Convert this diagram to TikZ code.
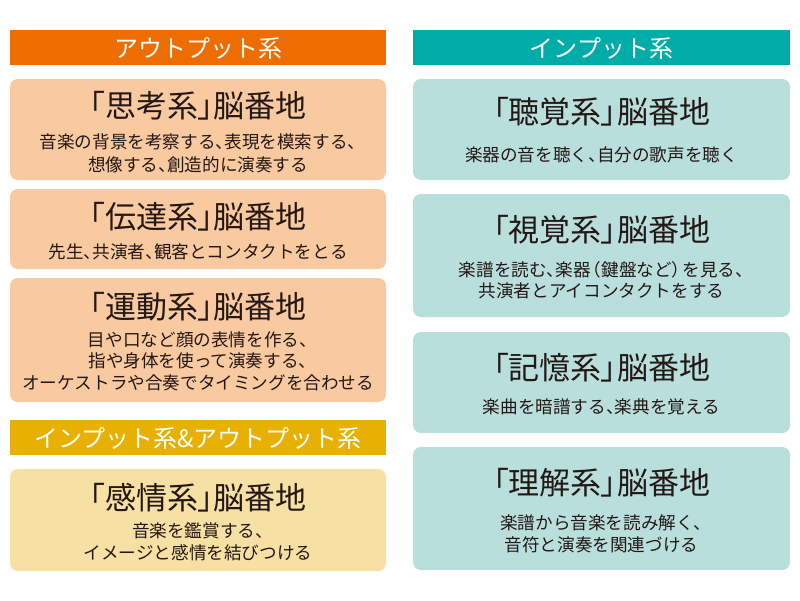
\documentclass[tikz,border=0pt]{standalone}
\usepackage{fontspec}
\setmainfont{Noto Sans CJK JP}
\newfontfamily\ttlfont{Noto Sans CJK JP}[RawFeature=+palt]
\newcommand\tou{\hbox to 0.5em{、\hss}}
\newcommand\kakkoL{\hbox to 0.6em{\hss（}}
\newcommand\kakkoR{\hbox to 0.6em{）\hss}}
\definecolor{hdrorange}{HTML}{ED6D00}
\definecolor{boxorange}{HTML}{F9C9A0}
\definecolor{hdryellow}{HTML}{E8B000}
\definecolor{boxyellow}{HTML}{F7E0A3}
\definecolor{hdrteal}{HTML}{00ACA8}
\definecolor{boxteal}{HTML}{B9DFDD}
\definecolor{ink}{HTML}{231815}
\begin{document}
\begin{tikzpicture}[x=1pt, y=-1pt, line join=round, line cap=round,
    hdr/.style={inner sep=0pt, minimum height=35pt},
    hdrtxt/.style={anchor=base, inner sep=0pt, text=white, font=\fontsize{24}{28}\selectfont},
    card/.style={inner sep=0pt, rounded corners=8pt},
    ttl/.style={anchor=base, inner sep=0pt, text=ink, font=\ttlfont\fontsize{31}{36}\selectfont},
    txt/.style={anchor=base, inner sep=0pt, align=center, text=ink, font=\fontsize{17.6}{22}\selectfont}]
    \useasboundingbox (0,0) rectangle (800,600);
    % アウトプット系
    \node[hdr, fill=hdrorange, minimum width=376pt] (outhdr) at (198,47.5) {};
    \node[hdrtxt] (outlbl) at (198,57) {アウトプット系};
    \node[card, fill=boxorange, minimum width=376pt, minimum height=101pt] (thinkbox) at (198,129.5) {};
    \node[ttl] (think) at (198,117) {「思考系」脳番地};
    \node[txt, font=\fontsize{17.6}{23}\selectfont] (thinktxt) at (198,171) {音楽の背景を考察する\tou 表現を模索する\tou\\想像する\tou 創造的に演奏する};
    \node[card, fill=boxorange, minimum width=376pt, minimum height=80pt] (commbox) at (198,229) {};
    \node[ttl] (comm) at (198,228) {「伝達系」脳番地};
    \node[txt] (commtxt) at (198,258) {先生\tou 共演者\tou 観客とコンタクトをとる};
    \node[card, fill=boxorange, minimum width=376pt, minimum height=124pt] (motorbox) at (198,340) {};
    \node[ttl] (motor) at (198,318) {「運動系」脳番地};
    \node[txt, font=\fontsize{17.6}{21.3}\selectfont] (motortxt) at (198,389) {目や口など顔の表情を作る\tou\\指や身体を使って演奏する\tou\\オーケストラや合奏でタイミングを合わせる};
    % インプット系&アウトプット系
    \node[hdr, fill=hdryellow, minimum width=376pt] (iohdr) at (198,437.5) {};
    \node[hdrtxt] (iolbl) at (198,447) {インプット系\&アウトプット系};
    \node[card, fill=boxyellow, minimum width=376pt, minimum height=102pt] (emobox) at (198,520) {};
    \node[ttl] (emo) at (198,509) {「感情系」脳番地};
    \node[txt] (emotxt) at (198,559) {音楽を鑑賞する\tou\\イメージと感情を結びつける};
    % インプット系
    \node[hdr, fill=hdrteal, minimum width=377pt] (inhdr) at (601.5,47.5) {};
    \node[hdrtxt] (inlbl) at (601.5,57) {インプット系};
    \node[card, fill=boxteal, minimum width=377pt, minimum height=101pt] (hearbox) at (601.5,129.5) {};
    \node[ttl] (hear) at (601.5,123) {「聴覚系」脳番地};
    \node[txt] (heartxt) at (601.5,161) {楽器の音を聴く\tou 自分の歌声を聴く};
    \node[card, fill=boxteal, minimum width=377pt, minimum height=123pt] (seebox) at (601.5,255.5) {};
    \node[ttl] (see) at (601.5,241) {「視覚系」脳番地};
    \node[txt, font=\fontsize{17.6}{21}\selectfont] (seetxt) at (601.5,297) {楽譜を読む\tou 楽器\kakkoL 鍵盤など\kakkoR を見る\tou\\共演者とアイコンタクトをする};
    \node[card, fill=boxteal, minimum width=377pt, minimum height=101pt] (membox) at (601.5,382.5) {};
    \node[ttl] (mem) at (601.5,379) {「記憶系」脳番地};
    \node[txt] (memtxt) at (601.5,413) {楽曲を暗譜する\tou 楽典を覚える};
    \node[card, fill=boxteal, minimum width=377pt, minimum height=123pt] (undbox) at (601.5,508.5) {};
    \node[ttl] (und) at (601.5,494) {「理解系」脳番地};
    \node[txt] (undtxt) at (601.5,551) {楽譜から音楽を読み解く\tou\\音符と演奏を関連づける};
\end{tikzpicture}
\end{document}
